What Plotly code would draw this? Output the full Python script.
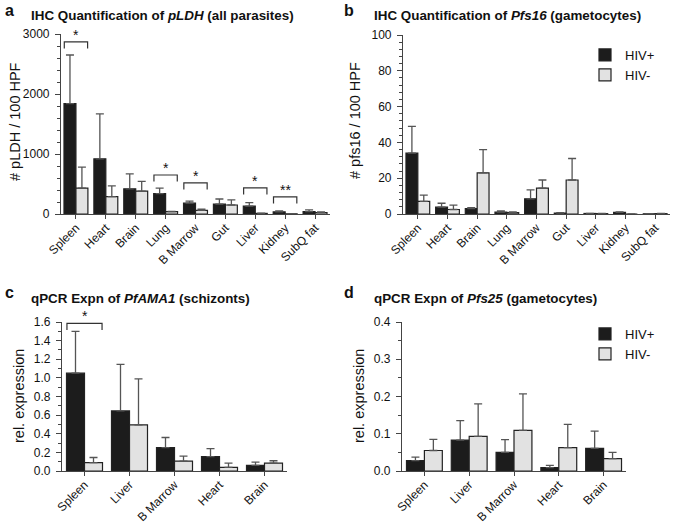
import plotly.graph_objects as go

# ---------------- data ----------------
organs_ihc = ["Spleen", "Heart", "Brain", "Lung", "B Marrow", "Gut", "Liver", "Kidney", "SubQ fat"]
organs_qpcr = ["Spleen", "Liver", "B Marrow", "Heart", "Brain"]

pldh_pos = [1840, 920, 420, 340, 180, 165, 130, 35, 40]
pldh_pos_err = [810, 750, 250, 90, 35, 85, 60, 15, 30]
pldh_neg = [430, 290, 380, 40, 60, 150, 10, 3, 25]
pldh_neg_err = [350, 180, 165, 5, 20, 85, 5, 0, 10]

pfs16_pos = [34, 3.8, 3.0, 1.0, 8.5, 0.5, 0.3, 0.9, 0.1]
pfs16_pos_err = [15, 2.2, 0.6, 0.8, 5, 0.3, 0.1, 0.3, 0.1]
pfs16_neg = [7, 2.5, 23, 0.8, 14.5, 19, 0.2, 0, 0.2]
pfs16_neg_err = [3.5, 2.5, 13, 0.4, 4.5, 12, 0.1, 0, 0.1]

ama1_pos = [1.05, 0.645, 0.25, 0.155, 0.06]
ama1_pos_err = [0.45, 0.50, 0.11, 0.085, 0.035]
ama1_neg = [0.09, 0.495, 0.105, 0.04, 0.085]
ama1_neg_err = [0.055, 0.495, 0.055, 0.045, 0.025]

pfs25_pos = [0.028, 0.083, 0.05, 0.009, 0.061]
pfs25_pos_err = [0.009, 0.052, 0.034, 0.006, 0.046]
pfs25_neg = [0.055, 0.093, 0.109, 0.063, 0.033]
pfs25_neg_err = [0.03, 0.087, 0.098, 0.062, 0.017]

# significance brackets: (organ, bracket height, stars)
sig_a = [("Spleen", 2870, "*"), ("Lung", 650, "*"), ("B Marrow", 520, "*"),
         ("Liver", 435, "*"), ("Kidney", 285, "**")]
sig_c = [("Spleen", 1.585, "*")]

# ---------------- styling ----------------
W, H = 673, 525
FONT = "Arial, Liberation Sans, sans-serif"
POS_FILL, NEG_FILL = "#1c1c1c", "#e2e2e2"
EDGE = "#222222"
ERR = "#555555"

def fx(px):
    return px / W

def fy(py):
    return 1 - py / H

def px_x(a, b):
    return [fx(a), fx(b)]

def px_y(top, bottom):
    return [fy(bottom), fy(top)]

fig = go.Figure()

panels = [
    dict(x="x", y="y", cats=organs_ihc, pos=pldh_pos, pe=pldh_pos_err, neg=pldh_neg, ne=pldh_neg_err, legend=None),
    dict(x="x2", y="y2", cats=organs_ihc, pos=pfs16_pos, pe=pfs16_pos_err, neg=pfs16_neg, ne=pfs16_neg_err, legend="legend"),
    dict(x="x3", y="y3", cats=organs_qpcr, pos=ama1_pos, pe=ama1_pos_err, neg=ama1_neg, ne=ama1_neg_err, legend=None),
    dict(x="x4", y="y4", cats=organs_qpcr, pos=pfs25_pos, pe=pfs25_pos_err, neg=pfs25_neg, ne=pfs25_neg_err, legend="legend2"),
]

for p in panels:
    for name, vals, errs, fill in [("HIV+", p["pos"], p["pe"], POS_FILL), ("HIV-", p["neg"], p["ne"], NEG_FILL)]:
        fig.add_trace(go.Bar(
            x=p["cats"], y=vals, name=name, xaxis=p["x"], yaxis=p["y"],
            marker=dict(color=fill, line=dict(color=EDGE, width=1.2)),
            error_y=dict(type="data", array=errs, arrayminus=[0] * len(errs), symmetric=False,
                         color=ERR, thickness=1.3, width=4),
            showlegend=p["legend"] is not None,
            legend=p["legend"] if p["legend"] else "legend",
        ))

def yax(domain, rng, dtick, minor_dtick, anchor, fmt=None):
    d = dict(domain=domain, range=rng, dtick=dtick, tick0=0, showline=True, linecolor="#444", linewidth=1.2,
             ticks="outside", ticklen=5, tickcolor="#444", showgrid=False, zeroline=False, automargin=False,
             ticklabelstandoff=3,
             tickfont=dict(size=12, color="#111", family=FONT),
             minor=dict(dtick=minor_dtick, ticks="outside", ticklen=3, tickcolor="#444"),
             anchor=anchor)
    if fmt:
        d["tickformat"] = fmt
    return d

def xax(domain, anchor):
    return dict(domain=domain, showline=True, linecolor="#444", linewidth=1.2, ticks="outside", ticklen=4,
                tickcolor="#444", tickangle=-45, showgrid=False, zeroline=False, automargin=False,
                ticklabelstandoff=-3,
                tickfont=dict(size=12, color="#111", family=FONT), anchor=anchor)

ya = yax(px_y(34, 214), [0, 3000], 1000, 200, "x")
yb = yax(px_y(35, 214), [0, 100], 20, 4, "x2")
yc = yax(px_y(322, 471), [0, 1.6], 0.2, 0.1, "x3", ".1f")
yd = yax(px_y(322, 471), [0, 0.4], 0.1, 0.05, "x4", ".1f")

xa = xax(px_x(61, 330), "y")
xb = xax(px_x(403, 670), "y2")
xc = xax(px_x(62, 287), "y3")
xd = xax(px_x(402, 626), "y4")

shapes, annotations = [], []

def add_brackets(sig, cats, xref, yref, drop):
    for organ, h, stars in sig:
        i = cats.index(organ)
        x0, x1 = i - 0.39, i + 0.39
        shapes.append(dict(type="path", xref=xref, yref=yref,
                           path=f"M {x0},{h - drop} L {x0},{h} L {x1},{h} L {x1},{h - drop}",
                           line=dict(color="#333", width=1.2)))
        annotations.append(dict(text=stars, x=i, y=h, xref=xref, yref=yref, showarrow=False,
                                font=dict(size=14, color="#111", family=FONT), yanchor="bottom", yshift=-3))

add_brackets(sig_a, organs_ihc, "x", "y", 110)
add_brackets(sig_c, organs_qpcr, "x3", "y3", 0.07)

titles = [
    ("a", 3, 10, "IHC Quantification of <i>pLDH</i> (all parasites)", 29, 15),
    ("b", 342, 10, "IHC Quantification of <i>Pfs16</i> (gametocytes)", 372, 15),
    ("c", 3, 292, "qPCR Expn of <i>PfAMA1</i> (schizonts)", 29, 298),
    ("d", 342, 292, "qPCR Expn of <i>Pfs25</i> (gametocytes)", 372, 298),
]
for letter, lx, ly, t, tx, ty in titles:
    annotations.append(dict(text=f"<b>{letter}</b>", x=fx(lx), y=fy(ly), xref="paper", yref="paper",
                            xanchor="left", yanchor="middle", showarrow=False,
                            font=dict(size=16, color="#111", family=FONT)))
    annotations.append(dict(text=f"<b>{t}</b>", x=fx(tx), y=fy(ty), xref="paper", yref="paper",
                            xanchor="left", yanchor="middle", showarrow=False,
                            font=dict(size=13.4, color="#111", family=FONT)))

ytitles = [("# pLDH / 100 HPF", 15, 122), ("# pfs16 / 100 HPF", 355, 121),
           ("rel. expression", 19, 396), ("rel. expression", 359, 396)]
for t, cx, cy in ytitles:
    annotations.append(dict(text=t, x=fx(cx), y=fy(cy), xref="paper", yref="paper", textangle=-90,
                            xanchor="center", yanchor="middle", showarrow=False,
                            font=dict(size=14.5, color="#111", family=FONT)))

legend_style = dict(xref="paper", yref="paper", xanchor="left", yanchor="top", bgcolor="rgba(0,0,0,0)",
                    font=dict(size=13, color="#111", family=FONT), tracegroupgap=0)

fig.update_layout(
    width=W, height=H, margin=dict(l=0, r=0, t=0, b=0),
    paper_bgcolor="white", plot_bgcolor="white",
    barmode="group", bargap=0.2, bargroupgap=0.0,
    font=dict(family=FONT, color="#111"),
    xaxis=xa, yaxis=ya, xaxis2=xb, yaxis2=yb, xaxis3=xc, yaxis3=yc, xaxis4=xd, yaxis4=yd,
    legend=dict(x=fx(585), y=fy(40), **legend_style),
    legend2=dict(x=fx(585), y=fy(319), **legend_style),
    shapes=shapes, annotations=annotations,
)

# remove the browser's default page margin so the figure starts at the window's top-left corner
fig.write_html("out.html", config={"displayModeBar": False},
               post_script="document.body.style.margin='0px';")
